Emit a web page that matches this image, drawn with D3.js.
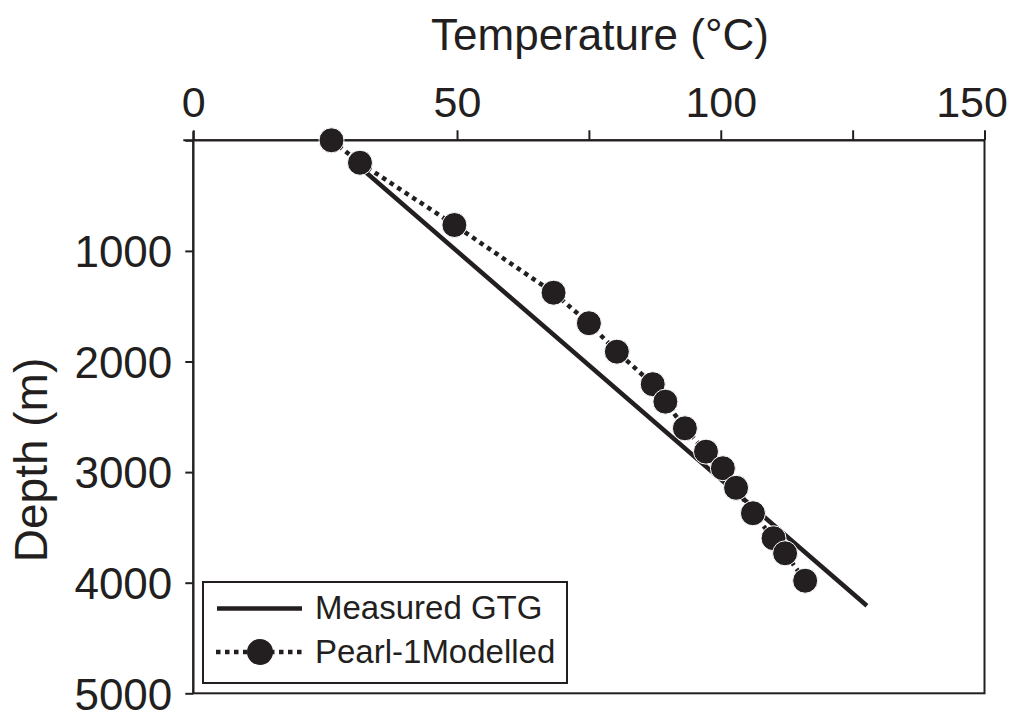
<!DOCTYPE html>
<html>
<head>
<meta charset="utf-8">
<script src="https://cdn.jsdelivr.net/npm/d3@7"></script>
<style>
  html, body { margin: 0; padding: 0; background: #fff; }
  svg { display: block; }
  text { font-family: "Liberation Sans", Arial, Helvetica, sans-serif; fill: #231f20; }
</style>
</head>
<body>
<svg id="chart" width="1011" height="715"></svg>
<script>
// ---- data ----
const modelledTemp  = [26.2, 31.6, 49.5, 68.3, 75.0, 80.3, 87.1, 89.5, 93.2, 97.2, 100.4, 102.9, 106.1, 110.0, 112.2, 116.0];
const modelledDepth = [0, 203, 766, 1378, 1654, 1911, 2205, 2363, 2604, 2815, 2965, 3142, 3372, 3598, 3734, 3982];
const measuredTemp  = [32, 127.7];
const measuredDepth = [260, 4208];
const xTicks = [0, 25, 50, 75, 100, 125, 150];
const xTickLabels = ["0", "", "50", "", "100", "", "150"];
const yTicks = [0, 1000, 2000, 3000, 4000, 5000];
const yTickLabels = ["", "1000", "2000", "3000", "4000", "5000"];
const seriesNames = ["Measured GTG", "Pearl-1Modelled"];
const xTitle = "Temperature (\u00B0C)";
const yTitle = "Depth (m)";

const ink = "#231f20";
const svg = d3.select("#chart");

const x = d3.scaleLinear().domain([0, 150]).range([193.3, 984.5]);
const y = d3.scaleLinear().domain([0, 5000]).range([140.3, 693.3]);

// frame (right + bottom)
svg.append("rect")
  .attr("x", x(0)).attr("y", y(0))
  .attr("width", x(150) - x(0)).attr("height", y(5000) - y(0))
  .attr("fill", "none").attr("stroke", ink).attr("stroke-width", 2);

// top axis
const gx = svg.append("g").attr("transform", `translate(0,${y(0)})`)
  .call(d3.axisTop(x).tickValues(xTicks).tickSize(10).tickPadding(13)
    .tickFormat((d, i) => xTickLabels[i]));
gx.select(".domain").attr("stroke", ink).attr("stroke-width", 2).attr("d", `M${x(0) - 10},0H${x(150)}`);
gx.selectAll(".tick line").attr("stroke", ink).attr("stroke-width", 2);
gx.selectAll(".tick text").attr("font-size", 43).attr("fill", ink)
  .style("font-family", '"Liberation Sans", Arial, sans-serif')
  .attr("x", d => d === 150 ? -13 : 0);

// left axis
const gy = svg.append("g").attr("transform", `translate(${x(0)},0)`)
  .call(d3.axisLeft(y).tickValues(yTicks).tickSize(8).tickPadding(13)
    .tickFormat((d, i) => yTickLabels[i]));
gy.select(".domain").attr("stroke", ink).attr("stroke-width", 2).attr("d", `M0,${y(0) - 9}V${y(5000)}`);
gy.selectAll(".tick line").attr("stroke", ink).attr("stroke-width", 2);
gy.selectAll(".tick text").attr("font-size", 44).attr("fill", ink).attr("dy", "0.36em")
  .style("font-family", '"Liberation Sans", Arial, sans-serif');

// axis titles
svg.append("text").attr("x", 600).attr("y", 50).attr("text-anchor", "middle")
  .attr("font-size", 44).text(xTitle);
svg.append("text").attr("transform", "translate(47,460) rotate(-90)")
  .attr("text-anchor", "middle").attr("font-size", 46).text(yTitle);

// measured line
const measured = measuredTemp.map((t, i) => [t, measuredDepth[i]]);
const line = d3.line().x(d => x(d[0])).y(d => y(d[1]));
svg.append("path").datum(measured).attr("d", line)
  .attr("fill", "none").attr("stroke", ink).attr("stroke-width", 4.5);

// modelled dotted line + dots
const modelled = modelledTemp.map((t, i) => [t, modelledDepth[i]]);
svg.append("path").datum(modelled).attr("d", line)
  .attr("fill", "none").attr("stroke", ink).attr("stroke-width", 4.5)
  .attr("stroke-dasharray", "4.5,4.5");
svg.append("g").selectAll("circle").data(modelled).join("circle")
  .attr("cx", d => x(d[0])).attr("cy", d => y(d[1])).attr("r", 12.5)
  .attr("fill", ink).attr("stroke", "#fff").attr("stroke-width", 1);

// legend
const lg = svg.append("g");
lg.append("rect").attr("x", 203).attr("y", 582).attr("width", 364).attr("height", 101)
  .attr("fill", "#fff").attr("stroke", ink).attr("stroke-width", 2);
lg.append("line").attr("x1", 217).attr("x2", 302).attr("y1", 608.5).attr("y2", 608.5)
  .attr("stroke", ink).attr("stroke-width", 4.5);
lg.append("line").attr("x1", 216).attr("x2", 304).attr("y1", 652).attr("y2", 652)
  .attr("stroke", ink).attr("stroke-width", 4.5).attr("stroke-dasharray", "4.5,4.5");
lg.append("circle").attr("cx", 260).attr("cy", 652).attr("r", 13).attr("fill", ink);
lg.append("text").attr("x", 315).attr("y", 619).attr("font-size", 33).text(seriesNames[0]);
lg.append("text").attr("x", 315).attr("y", 663).attr("font-size", 33).text(seriesNames[1]);
</script>
</body>
</html>
